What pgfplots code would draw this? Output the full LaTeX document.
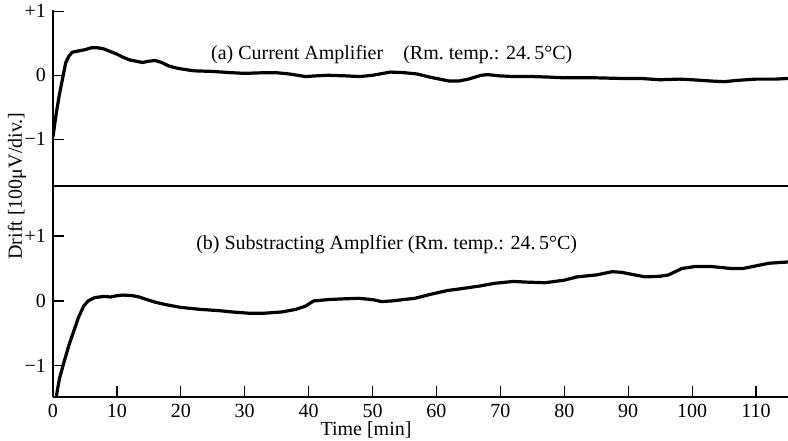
\documentclass[border=0pt]{standalone}
\usepackage{fontspec}
\setmainfont{Liberation Serif}
\usepackage{pgfplots}
\pgfplotsset{compat=1.18}
\begin{document}
\begin{tikzpicture}
\path[use as bounding box] (0,0) rectangle (394pt,220pt);
\pgfplotsset{common/.style={scale only axis, width=367.5pt, xmin=0, xmax=115,
  axis x line=bottom, axis y line=left, axis line style={-, line width=0.7pt},
  every inner x axis line/.append style={-}, every outer x axis line/.append style={-},
  every inner y axis line/.append style={-}, every outer y axis line/.append style={-},
  tick align=inside, major tick length=5.5pt, tick style={black, line width=0.6pt},
  /pgf/number format/assume math mode=true,
  tick label style={font=\fontsize{10}{12}\selectfont},
  xticklabel style={inner sep=1pt, yshift=-2.3pt},
  ytick={-1,0,1}, yticklabels={−1,0,+1}}}
\begin{axis}[common, at={(26.5pt,127pt)}, anchor=south west, height=88pt,
  ymin=-1.73, ymax=1.02, xtick=\empty]
\addplot[black, line width=1.6pt, line join=round] coordinates {
(0,-0.96) (0.5,-0.6) (1.0,-0.3) (1.5,-0.05) (2.0,0.2) (2.5,0.3) (3.0,0.36)
(4.0,0.38) (5.0,0.4) (6.0,0.43) (7.0,0.43) (8.0,0.41) (9.0,0.37) (10,0.33)
(11,0.28) (12,0.24) (13,0.22) (14,0.2) (15,0.22) (16,0.23) (17,0.2) (18,0.15)
(19,0.12) (20,0.1) (22,0.07) (25,0.06) (28,0.04) (30,0.03) (33,0.04) (35,0.04)
(37,0.02) (39.5,-0.02) (41,-0.01) (43,0.0) (46,-0.01) (48,-0.02) (50,0.0)
(52.8,0.05) (55,0.04) (57,0.02) (59,-0.03) (61,-0.07) (62,-0.09) (63.5,-0.09)
(65,-0.06) (67,0.0) (68,0.01) (70,-0.01) (72,-0.02) (75,-0.02) (78,-0.03)
(80,-0.04) (85,-0.04) (89,-0.05) (92,-0.05) (95,-0.07) (98,-0.06) (100,-0.07)
(103,-0.09) (105,-0.1) (107,-0.08) (110,-0.06) (113,-0.06) (115,-0.05)
};
\node[font=\fontsize{10}{12}\selectfont] at (axis cs:53,0.32) {(a) Current Amplifier\quad(Rm.\ temp.: 24.\,5°C)};
\end{axis}
\begin{axis}[common, at={(26.5pt,21.5pt)}, anchor=south west, height=105.5pt,
  ymin=-1.48, ymax=1.77, xtick={0,10,...,110}]
\addplot[black, line width=1.6pt, line join=round] coordinates {
(0.5,-1.48) (1.0,-1.2) (1.7,-0.95) (2.5,-0.68) (3.3,-0.45) (4.0,-0.25)
(4.8,-0.08) (5.5,0.0) (6.5,0.05) (8,0.07) (9,0.06) (10,0.08) (11,0.09)
(12.5,0.08) (13.5,0.06) (14.7,0.02) (16,-0.02) (17.8,-0.06) (20,-0.1)
(23,-0.13) (26,-0.15) (28,-0.17) (30.7,-0.19) (33,-0.19) (35.8,-0.17)
(38,-0.13) (39.5,-0.08) (40.8,0.0) (43,0.02) (45,0.03) (47.8,0.04) (50,0.02)
(51.4,-0.01) (53,0.0) (56.6,0.04) (59,0.1) (61.7,0.16) (64,0.19) (66.8,0.23)
(69,0.27) (72,0.3) (74,0.29) (77,0.28) (80,0.32) (82,0.37) (85,0.4)
(87.5,0.45) (89,0.44) (91,0.4) (92.7,0.37) (95,0.38) (96.3,0.4) (98.4,0.5)
(100.5,0.53) (103,0.53) (106,0.5) (108,0.5) (110,0.54) (112,0.58) (115,0.6)
};
\node[font=\fontsize{10}{12}\selectfont] at (axis cs:52.2,0.86) {(b) Substracting Amplfier (Rm.\ temp.: 24.\,5°C)};
\end{axis}
\node[font=\fontsize{10}{12}\selectfont, rotate=90] at (8.5pt,127pt) {Drift [100μV/div.]};
\node[font=\fontsize{10}{12}\selectfont, inner sep=0pt, anchor=base] at (183pt,2.5pt) {Time [min]};
\end{tikzpicture}
\end{document}
